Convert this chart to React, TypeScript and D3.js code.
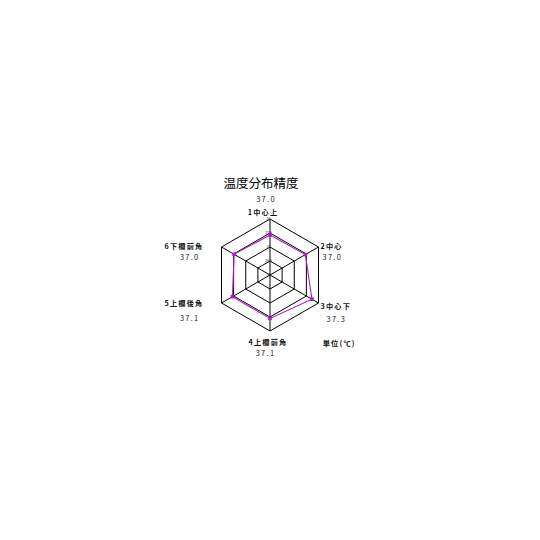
import * as d3 from 'd3';
import React from 'react';

const width = 540;
const height = 540;
const cx = 270;
const cy = 275;
const outerR = 56;

// axis names, the readings printed under them, and the plotted values
const axisNames = ['1中心上', '2中心', '3中心下', '4上欄前角', '5上欄後角', '6下欄前角'];
const readings = ['37.0', '37.0', '37.3', '37.1', '37.1', '37.0'];
const plotted = [37.43, 37.46, 37.73, 37.55, 37.55, 37.48];
const ringTicks = [36, 36.5, 37, 37.5, 38];

// where the two text lines sit relative to each outer vertex
const labelLayout = [
  { anchor: 'middle', nx: -7, ny: -4.5, vx: -4, vy: -17 },
  { anchor: 'start', nx: 2, ny: 1.5, vx: 4, vy: 12.5 },
  { anchor: 'start', nx: 2, ny: 6, vx: 8, vy: 18.5 },
  { anchor: 'middle', nx: -2, ny: 14, vx: -4.5, vy: 24.5 },
  { anchor: 'end', nx: -18, ny: 3, vx: -22, vy: 18 },
  { anchor: 'end', nx: -18, ny: 1.5, vx: -22, vy: 12.5 },
];

const purple = '#b01cc4';

export default function App() {
  const r = d3.scaleLinear().domain([36, 38]).range([0, outerR]);
  const angle = d3
    .scaleLinear()
    .domain([0, axisNames.length])
    .range([0, 2 * Math.PI]);

  const pt = (i: number, v: number): [number, number] => {
    const a = angle(i) - Math.PI / 2;
    return [cx + r(v) * Math.cos(a), cy + r(v) * Math.sin(a)];
  };

  const ringPath = (v: number) =>
    d3.line<number>()
      .x((_, i) => pt(i, v)[0])
      .y((_, i) => pt(i, v)[1])
      .curve(d3.curveLinearClosed)(axisNames.map(() => v)) || '';

  const dataPath =
    d3.line<number>()
      .x((d, i) => pt(i, d)[0])
      .y((d, i) => pt(i, d)[1])
      .curve(d3.curveLinearClosed)(plotted) || '';

  const font = "'Noto Sans CJK JP', 'Noto Sans', sans-serif";

  return (
    <svg
      width={width}
      height={height}
      style={{ position: 'absolute', left: 0, top: 0, background: '#fff' }}
    >
      <text x={261} y={188} fontSize={12.5} fontFamily={font} textAnchor="middle" fill="#000">
        温度分布精度
      </text>

      {ringTicks.slice(1).map((t) => (
        <path key={t} d={ringPath(t)} fill="none" stroke="#000" strokeWidth={1} />
      ))}
      {axisNames.map((n, i) => {
        const [x, y] = pt(i, 38);
        return <line key={n} x1={cx} y1={cy} x2={x} y2={y} stroke="#000" strokeWidth={1} />;
      })}

      {ringTicks.map((t) => (
        <text
          key={t}
          x={cx - 1.5}
          y={cy - r(t) + 1.2}
          fontSize={3.6}
          fontFamily={font}
          textAnchor="middle"
          fill="#333"
        >
          {t}
        </text>
      ))}

      <path d={dataPath} fill="none" stroke={purple} strokeWidth={1.1} />
      {plotted.map((v, i) => {
        const [x, y] = pt(i, v);
        return <rect key={i} x={x - 1.8} y={y - 1.8} width={3.6} height={3.6} fill={purple} />;
      })}

      {axisNames.map((n, i) => {
        const [x, y] = pt(i, 38);
        const l = labelLayout[i];
        return (
          <g key={n} fontFamily={font}>
            <text
              x={x + l.nx}
              y={y + l.ny}
              fontSize={7.2}
              fontWeight="bold"
              letterSpacing={1.2}
              textAnchor={l.anchor}
              fill="#111"
            >
              {n}
            </text>
            <text
              x={x + l.vx}
              y={y + l.vy}
              fontSize={7.4}
              letterSpacing={1.3}
              textAnchor={l.anchor}
              fill="#222"
            >
              {readings[i]}
            </text>
          </g>
        );
      })}

      <text x={322.7} y={345.5} fontSize={7.2} fontWeight="bold" letterSpacing={1.2} fontFamily={font} fill="#111">
        単位(℃)
      </text>
    </svg>
  );
}
